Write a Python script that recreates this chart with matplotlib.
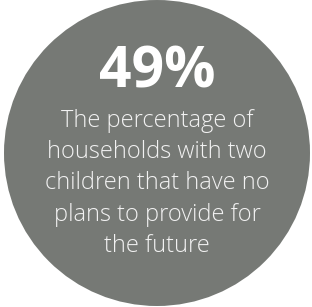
import matplotlib

matplotlib.use("Agg")
import matplotlib.pyplot as plt
from matplotlib.patches import Circle

headline = "49%"
caption_lines = [
    "The percentage of",
    "households with two",
    "children that have no",
    "plans to provide for",
    "the future",
]

W, H = 312, 307
fig = plt.figure(figsize=(W / 100, H / 100), dpi=100)
ax = fig.add_axes([0, 0, 1, 1])
ax.set_xlim(0, W)
ax.set_ylim(H, 0)
ax.set_aspect("equal")
ax.axis("off")

ax.add_patch(Circle((157, 153), 153, facecolor="#767975", edgecolor="none"))

ax.text(157, 88, headline, ha="center", va="baseline", color="white",
        fontsize=41, fontweight="bold", family="Open Sans")

for i, line in enumerate(caption_lines):
    ax.text(157, 127 + i * 31.2, line, ha="center", va="baseline",
            color="#f2f2f2", fontsize=17, fontweight="light", family="Open Sans")

fig.savefig("out.png", dpi=100)
